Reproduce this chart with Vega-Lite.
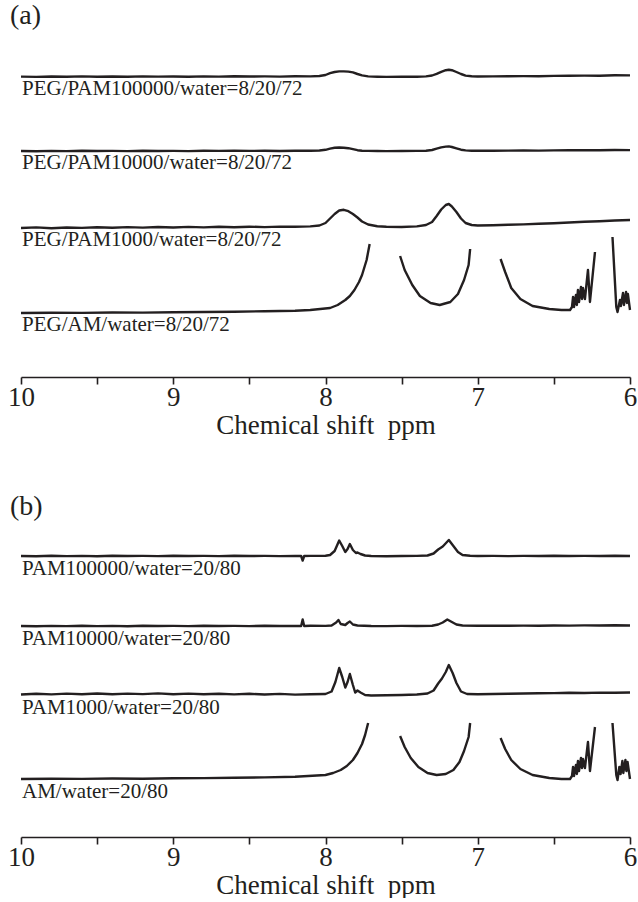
{
"$schema": "https://vega.github.io/schema/vega-lite/v6.json",
"padding": {"left": 7, "right": 0, "top": 2, "bottom": 0},
"config": {
  "font": "Liberation Serif",
  "view": {"stroke": null},
  "axis": {"domainColor": "#231f20", "domainWidth": 1.6, "tickColor": "#231f20", "tickWidth": 1.6, "tickSize": 7, "labelFontSize": 27, "labelColor": "#231f20", "labelPadding": 0, "labelFlush": false, "titleFontSize": 27, "titleFontWeight": "normal", "titleColor": "#231f20", "titlePadding": 2, "grid": false, "labelFont": "Liberation Serif", "titleFont": "Liberation Serif"},
  "title": {"anchor": "start", "frame": "group", "dx": -11, "fontSize": 28, "fontWeight": "normal", "color": "#231f20", "font": "Liberation Serif", "offset": 10}
},
"datasets": {
"labels": [{"s":"a1","label":"PEG/PAM100000/water=8/20/72"},{"s":"a2","label":"PEG/PAM10000/water=8/20/72"},{"s":"a3","label":"PEG/PAM1000/water=8/20/72"},{"s":"a4","label":"PEG/AM/water=8/20/72"},{"s":"b1","label":"PAM100000/water=20/80"},{"s":"b2","label":"PAM10000/water=20/80"},{"s":"b3","label":"PAM1000/water=20/80"},{"s":"b4","label":"AM/water=20/80"}],
"a": [
{"s":"a1","x":10,"y":300.4},{"s":"a1","x":9.9,"y":300.1},{"s":"a1","x":9.8,"y":300.5},{"s":"a1","x":9.7,"y":300.2},{"s":"a1","x":9.6,"y":300.6},{"s":"a1","x":9.5,"y":300.3},{"s":"a1","x":9.4,"y":300.5},{"s":"a1","x":9.3,"y":300.2},{"s":"a1","x":9.2,"y":300.6},{"s":"a1","x":9.1,"y":300.4},{"s":"a1","x":9.0,"y":300.5},{"s":"a1","x":8.9,"y":300.2},{"s":"a1","x":8.8,"y":300.6},{"s":"a1","x":8.7,"y":300.4},{"s":"a1","x":8.6,"y":300.7},{"s":"a1","x":8.5,"y":300.5},{"s":"a1","x":8.4,"y":300.6},{"s":"a1","x":8.3,"y":300.4},{"s":"a1","x":8.2,"y":300.8},{"s":"a1","x":8.1,"y":300.6},{"s":"a1","x":8.04,"y":301.0},{"s":"a1","x":8.0,"y":302.0},{"s":"a1","x":7.97,"y":303.8},{"s":"a1","x":7.94,"y":305.0},{"s":"a1","x":7.91,"y":305.6},{"s":"a1","x":7.88,"y":305.6},{"s":"a1","x":7.85,"y":305.4},{"s":"a1","x":7.82,"y":304.6},{"s":"a1","x":7.79,"y":303.0},{"s":"a1","x":7.76,"y":301.6},{"s":"a1","x":7.72,"y":300.6},{"s":"a1","x":7.66,"y":300.3},{"s":"a1","x":7.6,"y":300.1},{"s":"a1","x":7.5,"y":300.3},{"s":"a1","x":7.4,"y":300.2},{"s":"a1","x":7.34,"y":300.6},{"s":"a1","x":7.3,"y":301.5},{"s":"a1","x":7.27,"y":303.2},{"s":"a1","x":7.24,"y":305.2},{"s":"a1","x":7.21,"y":306.8},{"s":"a1","x":7.19,"y":307.2},{"s":"a1","x":7.17,"y":306.8},{"s":"a1","x":7.14,"y":305.0},{"s":"a1","x":7.11,"y":303.0},{"s":"a1","x":7.08,"y":301.4},{"s":"a1","x":7.04,"y":300.7},{"s":"a1","x":7.0,"y":300.5},{"s":"a1","x":6.9,"y":300.6},{"s":"a1","x":6.8,"y":300.7},{"s":"a1","x":6.7,"y":300.9},{"s":"a1","x":6.6,"y":300.8},{"s":"a1","x":6.5,"y":301.1},{"s":"a1","x":6.4,"y":301.2},{"s":"a1","x":6.3,"y":301.4},{"s":"a1","x":6.2,"y":301.3},{"s":"a1","x":6.1,"y":301.7},{"s":"a1","x":6.0,"y":301.6},

{"s":"a2","x":10,"y":226.0},{"s":"a2","x":9.9,"y":225.8},{"s":"a2","x":9.8,"y":226.1},{"s":"a2","x":9.7,"y":225.9},{"s":"a2","x":9.6,"y":226.2},{"s":"a2","x":9.5,"y":226.0},{"s":"a2","x":9.4,"y":226.1},{"s":"a2","x":9.3,"y":225.9},{"s":"a2","x":9.2,"y":226.2},{"s":"a2","x":9.1,"y":226.0},{"s":"a2","x":9.0,"y":226.1},{"s":"a2","x":8.9,"y":225.9},{"s":"a2","x":8.8,"y":226.2},{"s":"a2","x":8.7,"y":226.1},{"s":"a2","x":8.6,"y":226.3},{"s":"a2","x":8.5,"y":226.1},{"s":"a2","x":8.4,"y":226.2},{"s":"a2","x":8.3,"y":226.0},{"s":"a2","x":8.2,"y":226.3},{"s":"a2","x":8.1,"y":226.2},{"s":"a2","x":8.04,"y":226.5},{"s":"a2","x":8.0,"y":227.2},{"s":"a2","x":7.97,"y":228.4},{"s":"a2","x":7.94,"y":229.2},{"s":"a2","x":7.91,"y":229.5},{"s":"a2","x":7.88,"y":229.3},{"s":"a2","x":7.85,"y":228.8},{"s":"a2","x":7.82,"y":227.8},{"s":"a2","x":7.79,"y":226.8},{"s":"a2","x":7.76,"y":226.3},{"s":"a2","x":7.72,"y":226.1},{"s":"a2","x":7.66,"y":226.0},{"s":"a2","x":7.6,"y":225.9},{"s":"a2","x":7.5,"y":226.0},{"s":"a2","x":7.4,"y":226.1},{"s":"a2","x":7.34,"y":226.3},{"s":"a2","x":7.3,"y":227.0},{"s":"a2","x":7.27,"y":228.3},{"s":"a2","x":7.24,"y":229.6},{"s":"a2","x":7.21,"y":230.4},{"s":"a2","x":7.19,"y":230.6},{"s":"a2","x":7.17,"y":230.0},{"s":"a2","x":7.14,"y":228.6},{"s":"a2","x":7.11,"y":227.3},{"s":"a2","x":7.08,"y":226.6},{"s":"a2","x":7.04,"y":226.3},{"s":"a2","x":7.0,"y":226.2},{"s":"a2","x":6.9,"y":226.3},{"s":"a2","x":6.8,"y":226.4},{"s":"a2","x":6.7,"y":226.5},{"s":"a2","x":6.6,"y":226.4},{"s":"a2","x":6.5,"y":226.6},{"s":"a2","x":6.4,"y":226.7},{"s":"a2","x":6.3,"y":226.8},{"s":"a2","x":6.2,"y":226.7},{"s":"a2","x":6.1,"y":227.0},{"s":"a2","x":6.0,"y":226.9},

{"s":"a3","x":10,"y":149.0},{"s":"a3","x":9.9,"y":149.6},{"s":"a3","x":9.8,"y":148.8},{"s":"a3","x":9.7,"y":149.5},{"s":"a3","x":9.6,"y":149.1},{"s":"a3","x":9.5,"y":149.8},{"s":"a3","x":9.4,"y":149.2},{"s":"a3","x":9.3,"y":149.9},{"s":"a3","x":9.2,"y":149.4},{"s":"a3","x":9.1,"y":150.0},{"s":"a3","x":9.0,"y":149.5},{"s":"a3","x":8.9,"y":150.1},{"s":"a3","x":8.8,"y":149.6},{"s":"a3","x":8.7,"y":150.2},{"s":"a3","x":8.6,"y":149.7},{"s":"a3","x":8.5,"y":150.3},{"s":"a3","x":8.4,"y":149.9},{"s":"a3","x":8.3,"y":150.4},{"s":"a3","x":8.2,"y":150.2},{"s":"a3","x":8.1,"y":150.6},{"s":"a3","x":8.04,"y":151.5},{"s":"a3","x":8.0,"y":154.0},{"s":"a3","x":7.97,"y":158.5},{"s":"a3","x":7.94,"y":163.0},{"s":"a3","x":7.91,"y":166.5},{"s":"a3","x":7.88,"y":167.2},{"s":"a3","x":7.85,"y":165.8},{"s":"a3","x":7.82,"y":163.0},{"s":"a3","x":7.79,"y":159.5},{"s":"a3","x":7.76,"y":155.5},{"s":"a3","x":7.72,"y":152.5},{"s":"a3","x":7.66,"y":150.8},{"s":"a3","x":7.6,"y":150.2},{"s":"a3","x":7.5,"y":150.0},{"s":"a3","x":7.4,"y":150.6},{"s":"a3","x":7.34,"y":152.0},{"s":"a3","x":7.3,"y":155.0},{"s":"a3","x":7.27,"y":161.0},{"s":"a3","x":7.24,"y":167.5},{"s":"a3","x":7.21,"y":172.0},{"s":"a3","x":7.19,"y":173.0},{"s":"a3","x":7.17,"y":170.5},{"s":"a3","x":7.14,"y":165.0},{"s":"a3","x":7.11,"y":158.5},{"s":"a3","x":7.08,"y":154.0},{"s":"a3","x":7.04,"y":152.0},{"s":"a3","x":7.0,"y":151.5},{"s":"a3","x":6.9,"y":151.8},{"s":"a3","x":6.8,"y":152.3},{"s":"a3","x":6.7,"y":152.6},{"s":"a3","x":6.6,"y":153.2},{"s":"a3","x":6.5,"y":153.8},{"s":"a3","x":6.4,"y":154.5},{"s":"a3","x":6.3,"y":155.2},{"s":"a3","x":6.2,"y":155.8},{"s":"a3","x":6.1,"y":156.5},{"s":"a3","x":6.0,"y":157.0},

{"s":"a4","g":1,"x":10,"y":64.0},{"s":"a4","g":1,"x":9.8,"y":64.3},{"s":"a4","g":1,"x":9.6,"y":64.1},{"s":"a4","g":1,"x":9.4,"y":64.5},{"s":"a4","g":1,"x":9.2,"y":64.4},{"s":"a4","g":1,"x":9.0,"y":64.8},{"s":"a4","g":1,"x":8.8,"y":65.0},{"s":"a4","g":1,"x":8.6,"y":65.3},{"s":"a4","g":1,"x":8.4,"y":65.8},{"s":"a4","g":1,"x":8.2,"y":66.3},{"s":"a4","g":1,"x":8.1,"y":67.0},{"s":"a4","g":1,"x":7.97,"y":69.0},{"s":"a4","g":1,"x":7.92,"y":72.0},{"s":"a4","g":1,"x":7.87,"y":77.0},{"s":"a4","g":1,"x":7.84,"y":81.0},{"s":"a4","g":1,"x":7.81,"y":87.0},{"s":"a4","g":1,"x":7.78,"y":95.0},{"s":"a4","g":1,"x":7.76,"y":102.0},{"s":"a4","g":1,"x":7.73,"y":117.0},{"s":"a4","g":1,"x":7.71,"y":133.0},
{"s":"a4","g":2,"x":7.51,"y":121.0},{"s":"a4","g":2,"x":7.48,"y":107.0},{"s":"a4","g":2,"x":7.43,"y":92.0},{"s":"a4","g":2,"x":7.38,"y":81.0},{"s":"a4","g":2,"x":7.31,"y":74.0},{"s":"a4","g":2,"x":7.25,"y":72.0},{"s":"a4","g":2,"x":7.18,"y":75.0},{"s":"a4","g":2,"x":7.13,"y":83.0},{"s":"a4","g":2,"x":7.09,"y":97.0},{"s":"a4","g":2,"x":7.06,"y":112.0},{"s":"a4","g":2,"x":7.05,"y":128.0},
{"s":"a4","g":3,"x":6.85,"y":118.0},{"s":"a4","g":3,"x":6.82,"y":105.0},{"s":"a4","g":3,"x":6.78,"y":89.0},{"s":"a4","g":3,"x":6.72,"y":78.0},{"s":"a4","g":3,"x":6.64,"y":71.0},{"s":"a4","g":3,"x":6.53,"y":68.0},{"s":"a4","g":3,"x":6.45,"y":67.0},{"s":"a4","g":3,"x":6.394,"y":67.0},{"s":"a4","g":3,"x":6.381,"y":70.0},{"s":"a4","g":3,"x":6.374,"y":80.0},{"s":"a4","g":3,"x":6.368,"y":70.0},{"s":"a4","g":3,"x":6.355,"y":82.0},{"s":"a4","g":3,"x":6.349,"y":72.0},{"s":"a4","g":3,"x":6.342,"y":87.0},{"s":"a4","g":3,"x":6.335,"y":75.0},{"s":"a4","g":3,"x":6.322,"y":90.0},{"s":"a4","g":3,"x":6.315,"y":78.0},{"s":"a4","g":3,"x":6.309,"y":89.0},{"s":"a4","g":3,"x":6.296,"y":78.0},{"s":"a4","g":3,"x":6.276,"y":107.0},{"s":"a4","g":3,"x":6.263,"y":75.0},{"s":"a4","g":3,"x":6.23,"y":125.0},
{"s":"a4","g":4,"x":6.115,"y":140.0},{"s":"a4","g":4,"x":6.09,"y":70.0},{"s":"a4","g":4,"x":6.082,"y":65.0},{"s":"a4","g":4,"x":6.066,"y":77.0},{"s":"a4","g":4,"x":6.06,"y":71.0},{"s":"a4","g":4,"x":6.046,"y":84.0},{"s":"a4","g":4,"x":6.04,"y":72.0},{"s":"a4","g":4,"x":6.026,"y":85.0},{"s":"a4","g":4,"x":6.02,"y":74.0},{"s":"a4","g":4,"x":6.014,"y":83.0},{"s":"a4","g":4,"x":6.0,"y":67.0}
],
"b": [
{"s":"b1","x":10,"y":281.0},{"s":"b1","x":9.9,"y":280.8},{"s":"b1","x":9.8,"y":281.2},{"s":"b1","x":9.7,"y":280.9},{"s":"b1","x":9.6,"y":281.1},{"s":"b1","x":9.5,"y":280.8},{"s":"b1","x":9.4,"y":281.2},{"s":"b1","x":9.3,"y":281.0},{"s":"b1","x":9.2,"y":281.1},{"s":"b1","x":9.1,"y":280.9},{"s":"b1","x":9.0,"y":281.2},{"s":"b1","x":8.9,"y":281.0},{"s":"b1","x":8.8,"y":281.1},{"s":"b1","x":8.7,"y":280.9},{"s":"b1","x":8.6,"y":281.2},{"s":"b1","x":8.5,"y":281.0},{"s":"b1","x":8.4,"y":281.1},{"s":"b1","x":8.3,"y":280.9},{"s":"b1","x":8.2,"y":281.1},{"s":"b1","x":8.16,"y":281.0},{"s":"b1","x":8.15,"y":276.5},{"s":"b1","x":8.14,"y":281.0},{"s":"b1","x":8.1,"y":281.1},{"s":"b1","x":8.0,"y":281.2},{"s":"b1","x":7.97,"y":282.0},{"s":"b1","x":7.94,"y":286.0},{"s":"b1","x":7.91,"y":296.5},{"s":"b1","x":7.89,"y":291.0},{"s":"b1","x":7.87,"y":285.0},{"s":"b1","x":7.855,"y":288.0},{"s":"b1","x":7.84,"y":293.0},{"s":"b1","x":7.82,"y":287.0},{"s":"b1","x":7.8,"y":284.0},{"s":"b1","x":7.79,"y":284.5},{"s":"b1","x":7.77,"y":283.0},{"s":"b1","x":7.74,"y":281.5},{"s":"b1","x":7.7,"y":281.0},{"s":"b1","x":7.6,"y":280.8},{"s":"b1","x":7.5,"y":281.0},{"s":"b1","x":7.4,"y":281.1},{"s":"b1","x":7.33,"y":281.5},{"s":"b1","x":7.29,"y":283.5},{"s":"b1","x":7.26,"y":287.5},{"s":"b1","x":7.23,"y":290.5},{"s":"b1","x":7.19,"y":297.0},{"s":"b1","x":7.16,"y":291.0},{"s":"b1","x":7.13,"y":285.0},{"s":"b1","x":7.1,"y":282.0},{"s":"b1","x":7.05,"y":281.2},{"s":"b1","x":7.0,"y":281.0},{"s":"b1","x":6.9,"y":281.1},{"s":"b1","x":6.8,"y":280.9},{"s":"b1","x":6.7,"y":281.1},{"s":"b1","x":6.6,"y":281.0},{"s":"b1","x":6.5,"y":281.2},{"s":"b1","x":6.4,"y":281.0},{"s":"b1","x":6.3,"y":281.1},{"s":"b1","x":6.2,"y":281.0},{"s":"b1","x":6.1,"y":281.2},{"s":"b1","x":6.0,"y":281.0},

{"s":"b2","x":10,"y":211.0},{"s":"b2","x":9.9,"y":210.8},{"s":"b2","x":9.8,"y":211.1},{"s":"b2","x":9.7,"y":210.9},{"s":"b2","x":9.6,"y":211.2},{"s":"b2","x":9.5,"y":210.9},{"s":"b2","x":9.4,"y":211.1},{"s":"b2","x":9.3,"y":210.8},{"s":"b2","x":9.2,"y":211.2},{"s":"b2","x":9.1,"y":211.0},{"s":"b2","x":9.0,"y":211.1},{"s":"b2","x":8.9,"y":210.9},{"s":"b2","x":8.8,"y":211.2},{"s":"b2","x":8.7,"y":211.0},{"s":"b2","x":8.6,"y":211.1},{"s":"b2","x":8.5,"y":210.9},{"s":"b2","x":8.4,"y":211.2},{"s":"b2","x":8.3,"y":211.0},{"s":"b2","x":8.2,"y":211.1},{"s":"b2","x":8.16,"y":211.0},{"s":"b2","x":8.15,"y":217.5},{"s":"b2","x":8.14,"y":211.0},{"s":"b2","x":8.1,"y":211.2},{"s":"b2","x":8.0,"y":211.1},{"s":"b2","x":7.96,"y":211.5},{"s":"b2","x":7.93,"y":214.5},{"s":"b2","x":7.915,"y":217.0},{"s":"b2","x":7.9,"y":213.0},{"s":"b2","x":7.87,"y":212.0},{"s":"b2","x":7.855,"y":214.0},{"s":"b2","x":7.84,"y":215.5},{"s":"b2","x":7.82,"y":212.5},{"s":"b2","x":7.79,"y":211.5},{"s":"b2","x":7.7,"y":211.0},{"s":"b2","x":7.6,"y":210.9},{"s":"b2","x":7.5,"y":211.1},{"s":"b2","x":7.4,"y":211.0},{"s":"b2","x":7.3,"y":211.3},{"s":"b2","x":7.26,"y":212.5},{"s":"b2","x":7.23,"y":214.5},{"s":"b2","x":7.2,"y":217.5},{"s":"b2","x":7.17,"y":215.0},{"s":"b2","x":7.14,"y":212.5},{"s":"b2","x":7.1,"y":211.5},{"s":"b2","x":7.0,"y":211.2},{"s":"b2","x":6.9,"y":211.3},{"s":"b2","x":6.8,"y":211.2},{"s":"b2","x":6.7,"y":211.4},{"s":"b2","x":6.6,"y":211.3},{"s":"b2","x":6.5,"y":211.5},{"s":"b2","x":6.4,"y":211.4},{"s":"b2","x":6.3,"y":211.6},{"s":"b2","x":6.2,"y":211.5},{"s":"b2","x":6.1,"y":211.7},{"s":"b2","x":6.0,"y":211.5},

{"s":"b3","x":10,"y":142.5},{"s":"b3","x":9.9,"y":143.3},{"s":"b3","x":9.8,"y":142.6},{"s":"b3","x":9.7,"y":143.4},{"s":"b3","x":9.6,"y":142.8},{"s":"b3","x":9.5,"y":143.5},{"s":"b3","x":9.4,"y":142.7},{"s":"b3","x":9.3,"y":143.4},{"s":"b3","x":9.2,"y":142.9},{"s":"b3","x":9.1,"y":143.6},{"s":"b3","x":9.0,"y":142.8},{"s":"b3","x":8.9,"y":143.4},{"s":"b3","x":8.8,"y":142.7},{"s":"b3","x":8.7,"y":143.3},{"s":"b3","x":8.6,"y":142.6},{"s":"b3","x":8.5,"y":143.2},{"s":"b3","x":8.4,"y":142.5},{"s":"b3","x":8.3,"y":143.1},{"s":"b3","x":8.2,"y":142.4},{"s":"b3","x":8.1,"y":142.8},{"s":"b3","x":8.0,"y":143.0},{"s":"b3","x":7.96,"y":145.5},{"s":"b3","x":7.935,"y":155.0},{"s":"b3","x":7.91,"y":169.0},{"s":"b3","x":7.89,"y":160.0},{"s":"b3","x":7.87,"y":149.5},{"s":"b3","x":7.855,"y":155.0},{"s":"b3","x":7.84,"y":163.0},{"s":"b3","x":7.82,"y":152.0},{"s":"b3","x":7.805,"y":144.5},{"s":"b3","x":7.79,"y":146.5},{"s":"b3","x":7.77,"y":144.5},{"s":"b3","x":7.74,"y":142.0},{"s":"b3","x":7.7,"y":141.5},{"s":"b3","x":7.6,"y":141.8},{"s":"b3","x":7.5,"y":142.0},{"s":"b3","x":7.4,"y":142.5},{"s":"b3","x":7.33,"y":143.5},{"s":"b3","x":7.29,"y":146.5},{"s":"b3","x":7.26,"y":153.5},{"s":"b3","x":7.235,"y":158.5},{"s":"b3","x":7.21,"y":165.0},{"s":"b3","x":7.19,"y":172.0},{"s":"b3","x":7.165,"y":164.0},{"s":"b3","x":7.14,"y":154.0},{"s":"b3","x":7.11,"y":145.5},{"s":"b3","x":7.07,"y":143.0},{"s":"b3","x":7.0,"y":142.8},{"s":"b3","x":6.9,"y":143.0},{"s":"b3","x":6.8,"y":143.2},{"s":"b3","x":6.7,"y":143.5},{"s":"b3","x":6.6,"y":143.7},{"s":"b3","x":6.5,"y":143.9},{"s":"b3","x":6.4,"y":144.2},{"s":"b3","x":6.3,"y":144.0},{"s":"b3","x":6.2,"y":144.4},{"s":"b3","x":6.1,"y":144.3},{"s":"b3","x":6.0,"y":144.5},

{"s":"b4","g":1,"x":10,"y":58.0},{"s":"b4","g":1,"x":9.8,"y":58.3},{"s":"b4","g":1,"x":9.6,"y":58.1},{"s":"b4","g":1,"x":9.4,"y":58.5},{"s":"b4","g":1,"x":9.2,"y":58.3},{"s":"b4","g":1,"x":9.0,"y":58.7},{"s":"b4","g":1,"x":8.8,"y":58.9},{"s":"b4","g":1,"x":8.6,"y":59.2},{"s":"b4","g":1,"x":8.4,"y":59.6},{"s":"b4","g":1,"x":8.2,"y":60.3},{"s":"b4","g":1,"x":8.0,"y":62.0},{"s":"b4","g":1,"x":7.95,"y":64.0},{"s":"b4","g":1,"x":7.9,"y":67.0},{"s":"b4","g":1,"x":7.86,"y":71.0},{"s":"b4","g":1,"x":7.82,"y":77.0},{"s":"b4","g":1,"x":7.79,"y":84.0},{"s":"b4","g":1,"x":7.76,"y":93.0},{"s":"b4","g":1,"x":7.74,"y":102.0},{"s":"b4","g":1,"x":7.72,"y":114.0},
{"s":"b4","g":2,"x":7.51,"y":101.0},{"s":"b4","g":2,"x":7.48,"y":90.0},{"s":"b4","g":2,"x":7.44,"y":79.0},{"s":"b4","g":2,"x":7.39,"y":70.0},{"s":"b4","g":2,"x":7.33,"y":64.0},{"s":"b4","g":2,"x":7.27,"y":62.0},{"s":"b4","g":2,"x":7.21,"y":63.0},{"s":"b4","g":2,"x":7.16,"y":67.0},{"s":"b4","g":2,"x":7.12,"y":75.0},{"s":"b4","g":2,"x":7.09,"y":86.0},{"s":"b4","g":2,"x":7.06,"y":100.0},{"s":"b4","g":2,"x":7.05,"y":114.0},
{"s":"b4","g":3,"x":6.85,"y":99.0},{"s":"b4","g":3,"x":6.82,"y":88.0},{"s":"b4","g":3,"x":6.78,"y":77.0},{"s":"b4","g":3,"x":6.72,"y":68.0},{"s":"b4","g":3,"x":6.64,"y":62.0},{"s":"b4","g":3,"x":6.53,"y":59.0},{"s":"b4","g":3,"x":6.45,"y":58.0},{"s":"b4","g":3,"x":6.394,"y":58.0},{"s":"b4","g":3,"x":6.381,"y":61.0},{"s":"b4","g":3,"x":6.374,"y":70.0},{"s":"b4","g":3,"x":6.368,"y":61.0},{"s":"b4","g":3,"x":6.355,"y":72.0},{"s":"b4","g":3,"x":6.349,"y":63.0},{"s":"b4","g":3,"x":6.342,"y":76.0},{"s":"b4","g":3,"x":6.335,"y":66.0},{"s":"b4","g":3,"x":6.322,"y":79.0},{"s":"b4","g":3,"x":6.315,"y":69.0},{"s":"b4","g":3,"x":6.309,"y":78.0},{"s":"b4","g":3,"x":6.296,"y":69.0},{"s":"b4","g":3,"x":6.276,"y":95.0},{"s":"b4","g":3,"x":6.263,"y":66.0},{"s":"b4","g":3,"x":6.23,"y":110.0},
{"s":"b4","g":4,"x":6.115,"y":114.0},{"s":"b4","g":4,"x":6.09,"y":62.0},{"s":"b4","g":4,"x":6.082,"y":57.0},{"s":"b4","g":4,"x":6.07,"y":70.0},{"s":"b4","g":4,"x":6.062,"y":63.0},{"s":"b4","g":4,"x":6.05,"y":76.0},{"s":"b4","g":4,"x":6.044,"y":64.0},{"s":"b4","g":4,"x":6.03,"y":77.0},{"s":"b4","g":4,"x":6.024,"y":66.0},{"s":"b4","g":4,"x":6.016,"y":75.0},{"s":"b4","g":4,"x":6.0,"y":58.0}
]
},
"spacing": 55,
"vconcat": [
{
  "title": {"text": "(a)"},
  "width": 609, "height": 337,
  "data": {"name": "a"},
  "layer": [
    {"mark": {"type": "line", "color": "#231f20", "strokeJoin": "round"},
     "encoding": {
       "x": {"field": "x", "type": "quantitative", "scale": {"domain": [6, 10], "reverse": true, "nice": false, "zero": false},
             "axis": {"values": [10, 9.5, 9, 8.5, 8, 7.5, 7, 6.5, 6], "labelExpr": "datum.value % 1 == 0 ? format(datum.value, 'd') : ''", "title": "Chemical shift\u00a0 ppm", "labelFont": "Liberation Serif", "titleFont": "Liberation Serif"}},
       "y": {"field": "y", "type": "quantitative", "scale": {"domain": [0, 337], "nice": false, "zero": false}, "axis": null},
       "detail": [{"field": "s"}, {"field": "g"}],
       "strokeWidth": {"field": "s", "type": "nominal", "scale": {"domain": ["a1", "a2", "a3", "a4"], "range": [2.4, 2.4, 3.6, 1.7]}, "legend": null}
     }},
    {"transform": [{"filter": "datum.x == 10"}, {"lookup": "s", "from": {"data": {"name": "labels"}, "key": "s", "fields": ["label"]}}],
     "mark": {"type": "text", "align": "left", "baseline": "middle", "dx": 1, "dy": 12, "fontSize": 21, "color": "#231f20", "font": "Liberation Serif"},
     "encoding": {
       "x": {"field": "x", "type": "quantitative"},
       "y": {"field": "y", "type": "quantitative"},
       "text": {"field": "label"}
     }}
  ]
},
{
  "title": {"text": "(b)"},
  "width": 609, "height": 306,
  "data": {"name": "b"},
  "layer": [
    {"mark": {"type": "line", "color": "#231f20", "strokeJoin": "round"},
     "encoding": {
       "x": {"field": "x", "type": "quantitative", "scale": {"domain": [6, 10], "reverse": true, "nice": false, "zero": false},
             "axis": {"values": [10, 9.5, 9, 8.5, 8, 7.5, 7, 6.5, 6], "labelExpr": "datum.value % 1 == 0 ? format(datum.value, 'd') : ''", "title": "Chemical shift\u00a0 ppm", "labelFont": "Liberation Serif", "titleFont": "Liberation Serif"}},
       "y": {"field": "y", "type": "quantitative", "scale": {"domain": [0, 306], "nice": false, "zero": false}, "axis": null},
       "detail": [{"field": "s"}, {"field": "g"}],
       "strokeWidth": {"field": "s", "type": "nominal", "scale": {"domain": ["b1", "b2", "b3", "b4"], "range": [2.4, 2.4, 3.6, 1.7]}, "legend": null}
     }},
    {"transform": [{"filter": "datum.x == 10"}, {"lookup": "s", "from": {"data": {"name": "labels"}, "key": "s", "fields": ["label"]}}],
     "mark": {"type": "text", "align": "left", "baseline": "middle", "dx": 1, "dy": 13, "fontSize": 21, "color": "#231f20", "font": "Liberation Serif"},
     "encoding": {
       "x": {"field": "x", "type": "quantitative"},
       "y": {"field": "y", "type": "quantitative"},
       "text": {"field": "label"}
     }}
  ]
}
]
}
